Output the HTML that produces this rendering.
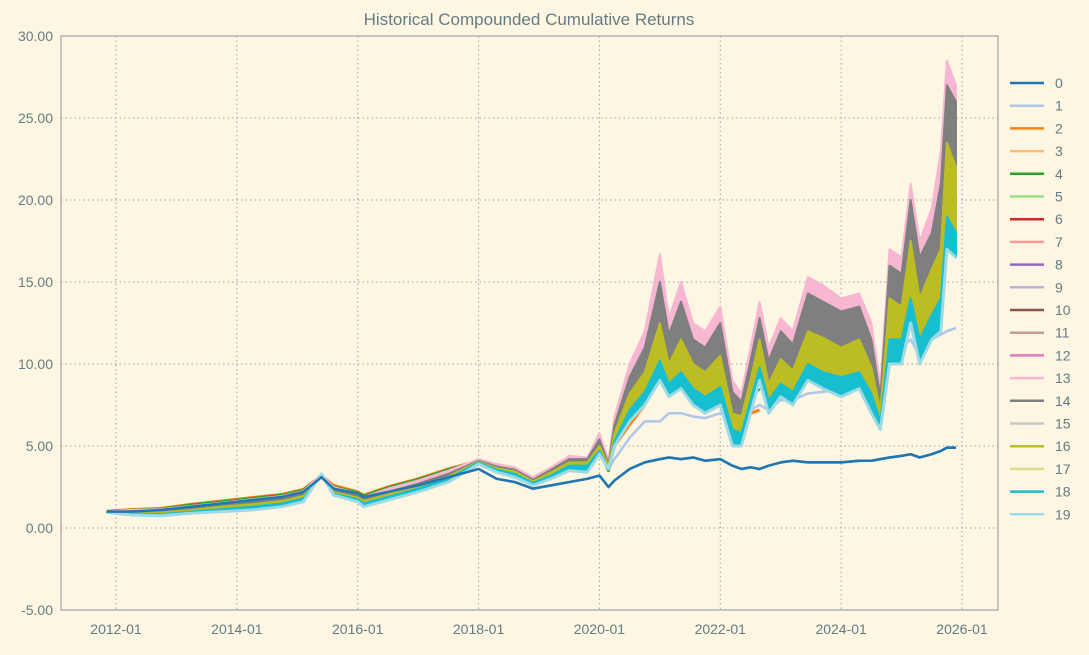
<!DOCTYPE html>
<html><head><meta charset="utf-8"><style>
body{margin:0;background:#fdf6e3;font-family:"Liberation Sans",sans-serif}
</style></head><body>
<svg id="chart" width="1089" height="650" xmlns="http://www.w3.org/2000/svg"></svg>
<script>
const times=[2011.85,2012.25,2012.75,2013.25,2013.75,2014.25,2014.75,2015.1,2015.4,2015.6,2016.0,2016.1,2016.5,2017.0,2017.5,2018.0,2018.3,2018.6,2018.9,2019.2,2019.5,2019.8,2020.0,2020.15,2020.25,2020.5,2020.75,2021.0,2021.15,2021.35,2021.55,2021.75,2022.0,2022.2,2022.35,2022.5,2022.65,2022.8,2023.0,2023.2,2023.45,2023.7,2024.0,2024.3,2024.5,2024.65,2024.8,2025.0,2025.15,2025.3,2025.5,2025.65,2025.75,2025.9];
const s0=[1.0,1.0,1.1,1.3,1.5,1.7,1.9,2.2,3.1,2.4,2.1,1.9,2.2,2.6,3.1,3.6,3.0,2.8,2.4,2.6,2.8,3.0,3.2,2.5,2.9,3.6,4.0,4.2,4.3,4.2,4.3,4.1,4.2,3.8,3.6,3.7,3.6,3.8,4.0,4.1,4.0,4.0,4.0,4.1,4.1,4.2,4.3,4.4,4.5,4.3,4.5,4.7,4.9,4.9];
const s1=[0.98,0.9,0.88,1.05,1.2,1.35,1.55,1.85,3.2,2.1,1.8,1.55,1.95,2.45,3.05,4.0,3.6,3.35,2.8,3.3,3.9,4.0,5.0,3.6,4.2,5.5,6.5,6.5,7,7,6.8,6.7,7,7,6.8,7.2,7.5,7.2,7.8,7.8,8.2,8.3,8.5,8.8,9.0,8.5,10,11,11.5,10.5,11.5,11.8,12,12.2];
const s2=[1.02,1.12,1.2,1.45,1.65,1.85,2.05,2.35,3.2,2.6,2.2,2.0,2.5,3.0,3.6,4.1,3.8,3.6,3.0,3.5,4.1,3.9,4.6,3.6,5,6.3,7.5,9.5,8.5,9,8,7.8,8.2,6,5.8,7,7.2,null,null,null,null,null,null,null,null,null,null,null,null,null,null,null,null,null];
const s4=[1.0,1.08,1.15,1.4,1.6,1.8,2.0,2.3,3.2,2.5,2.15,1.95,2.45,2.95,3.55,4.1,3.75,3.55,2.95,3.5,4.1,4.0,4.8,3.5,5.2,6.8,8,10,8.8,9.5,8.5,8.2,8.8,6.3,6.2,8,8.5,null,null,null,null,null,null,null,null,null,null,null,null,null,null,null,null,null];
const s13=[1.0,1.1,1.15,1.35,1.55,1.75,1.95,2.25,3.3,2.5,2.1,1.9,2.4,2.9,3.5,4.2,3.9,3.7,3.1,3.7,4.4,4.3,5.8,4.1,6.8,10,12,16.7,12.8,15,12.5,12,13.5,9,8.2,11,13.8,11,12.8,12,15.3,14.8,14,14.3,12.5,8.7,17,16.5,21,17.5,19.5,23,28.5,27];
const s14=[1.0,1.02,1.05,1.25,1.45,1.6,1.8,2.1,3.2,2.35,1.95,1.8,2.2,2.7,3.3,4.1,3.75,3.55,2.95,3.55,4.2,4.2,5.4,3.9,6.3,9.2,11,15,11.8,13.8,11.5,11,12.5,8.3,7.7,10.2,12.8,10.2,12,11.2,14.3,13.8,13.2,13.5,11.5,8.0,16,15.5,20,16.5,18,21,27,26];
const s16=[0.98,0.95,0.95,1.1,1.3,1.45,1.65,1.95,3.2,2.2,1.85,1.65,2.05,2.55,3.15,4.05,3.65,3.45,2.85,3.4,4.0,4.0,5.0,3.8,5.8,8.2,9.5,12.5,10,11.5,10,9.5,10.5,7,6.8,9,11.5,8.8,10.3,9.6,12,11.6,11,11.5,9.8,7.2,14,13.5,17.5,14,15.8,17,23.5,22];
const s18=[0.97,0.88,0.85,1.0,1.15,1.3,1.5,1.8,3.25,2.1,1.75,1.5,1.9,2.4,3.0,4.0,3.55,3.3,2.75,3.2,3.8,3.8,4.7,3.6,5.3,7.2,8.3,10.2,8.8,9.5,8.5,8,8.6,6,5.8,7.8,9.8,7.8,8.8,8.3,10,9.5,9.2,9.5,8.2,6.5,11.5,11.5,14,11.5,13,14,19,18];
const s19=[0.95,0.8,0.75,0.9,1.0,1.1,1.3,1.6,3.3,2.0,1.6,1.3,1.7,2.2,2.8,3.9,3.4,3.1,2.6,3.0,3.5,3.4,4.5,3.6,5.0,6.5,7.5,9.0,8.0,8.5,7.5,7.0,7.5,5.0,5.0,7.0,9.0,7.0,8.0,7.5,9.0,8.5,8.0,8.5,7.0,6.0,10.0,10.0,12.5,10.0,11.5,12.0,17.0,16.5];
const yTicks=[-5,0,5,10,15,20,25,30];
const xTicks=[2012,2014,2016,2018,2020,2022,2024,2026];
const legendLabels=["0","1","2","3","4","5","6","7","8","9","10","11","12","13","14","15","16","17","18","19"];
const colors=["#1f77b4","#aec7e8","#ff7f0e","#ffbb78","#2ca02c","#98df8a","#d62728","#ff9896","#9467bd","#c5b0d5","#8c564b","#c49c94","#e377c2","#f7b6d2","#7f7f7f","#c7c7c7","#bcbd22","#dbdb8d","#17becf","#9edae5"];

const NS="http://www.w3.org/2000/svg";
const svg=document.getElementById('chart');
const L=61,R=998,T=36,B=610;
const x=v=>116+(v-2012)*(962-116)/14;
const y=v=>B-(v+5)*(B-T)/35;
function mk(tag,attrs,parent){const e=document.createElementNS(NS,tag);for(const k in attrs)e.setAttribute(k,attrs[k]);(parent||svg).appendChild(e);return e;}

const title=mk('text',{x:529,y:25,'text-anchor':'middle','font-size':17,fill:'#657b83'});
title.textContent='Historical Compounded Cumulative Returns';



yTicks.forEach(v=>{
  const g=mk('line',{x1:L,x2:R,y1:y(v),y2:y(v),stroke:'#9aa5a8','stroke-dasharray':'1.5,3','stroke-width':1});
  
  
  const t=mk('text',{x:L-8,y:y(v)+5,'text-anchor':'end','font-size':14,fill:'#657b83'});
  t.textContent=v.toFixed(2);
  
  
});
xTicks.forEach(v=>{
  const g=mk('line',{x1:x(v),x2:x(v),y1:T,y2:B,stroke:'#9aa5a8','stroke-dasharray':'1.5,3','stroke-width':1});
  
  
  const t=mk('text',{x:x(v),y:B+24,'text-anchor':'middle','font-size':14,fill:'#657b83'});
  t.textContent=v+'-01';
  
  
});

function band(up,lo,color,name){
  let d='';
  times.forEach((t,i)=>{d+=(i?'L':'M')+x(t)+','+y(up[i]);});
  for(let i=times.length-1;i>=0;i--)d+='L'+x(times[i])+','+y(lo[i]);
  const p=mk('path',{d:d+'Z',fill:color,stroke:color,'stroke-width':2,'stroke-linejoin':'round'});
  
  
}
function line(arr,color,w,name){
  let d='',pen=false;
  times.forEach((t,i)=>{if(arr[i]==null){pen=false;return;}d+=(pen?'L':'M')+x(t)+','+y(arr[i]);pen=true;});
  const p=mk('path',{d:d,fill:'none',stroke:color,'stroke-width':w,'stroke-linejoin':'round'});
  
  
}
line(s0,colors[0],2.5,'series-0-line');
line(s1,colors[1],2.5,'series-1-line');
line(s2,colors[2],3,'series-2-line');
line(s4,colors[4],3,'series-4-line');
band(s13,s14,colors[13],'series-13-band');
band(s14,s16,colors[14],'series-14-band');
band(s16,s18,colors[16],'series-16-band');
band(s18,s19,colors[18],'series-18-band');
line(s19,colors[19],3,'series-19-line');
line(s0,colors[0],2.5,'series-0-line-top');

const frame=mk('rect',{x:L,y:T,width:R-L,height:B-T,fill:'none',stroke:'#8a9599','stroke-width':1});



const lg=mk('g',{});


legendLabels.forEach((lab,i)=>{
  const ly=83+i*22.7;
  const g=mk('g',{},lg);
  
  
  mk('line',{x1:1010,x2:1044,y1:ly,y2:ly,stroke:colors[i],'stroke-width':2.5},g);
  const t=mk('text',{x:1055,y:ly+5,'font-size':14,fill:'#657b83'},g);
  t.textContent=lab;
});
</script>
</body></html>
